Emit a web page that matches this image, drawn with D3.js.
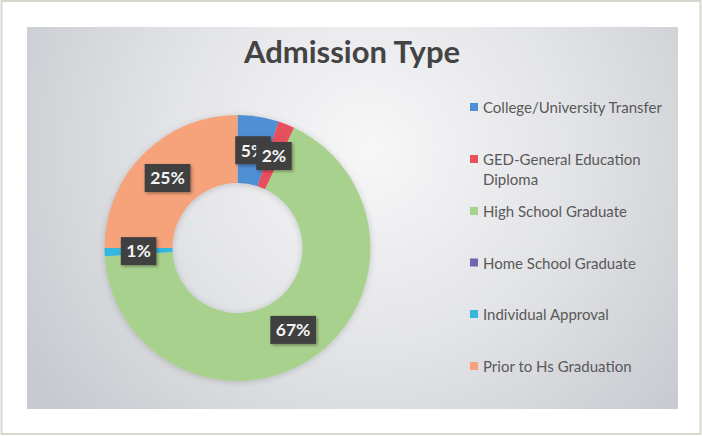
<!DOCTYPE html>
<html>
<head>
<meta charset="utf-8">
<script src="https://cdn.jsdelivr.net/npm/d3@7"></script>
<style>
  html, body { margin: 0; padding: 0; background: #ffffff; }
  svg { display: block; }
</style>
</head>
<body>
<svg id="chart" width="702" height="436"></svg>
<script>
// Admission type breakdown (percent of admissions)
const categories = [
  "College/University Transfer",
  "GED-General Education Diploma",
  "High School Graduate",
  "Home School Graduate",
  "Individual Approval",
  "Prior to Hs Graduation"
];
const values = [5, 2, 67, 0, 1, 25];
const colors = ["#4f8fd3", "#e8505c", "#a9d18e", "#6f63b4", "#35b6dc", "#f6a27a"];
// legend labels as they wrap on screen
const legendLines = [
  ["College/University Transfer"],
  ["GED-General Education", "Diploma"],
  ["High School Graduate"],
  ["Home School Graduate"],
  ["Individual Approval"],
  ["Prior to Hs Graduation"]
];

const W = 702, H = 436;
const svg = d3.select("#chart");
const defs = svg.append("defs");

// panel gradient
const grad = defs.append("radialGradient")
  .attr("id", "panelGrad")
  .attr("gradientUnits", "userSpaceOnUse")
  .attr("cx", 370).attr("cy", 150).attr("r", 400);
grad.append("stop").attr("offset", "0%").attr("stop-color", "#f7f7f8");
grad.append("stop").attr("offset", "50%").attr("stop-color", "#e3e4e7");
grad.append("stop").attr("offset", "100%").attr("stop-color", "#c7cacf");

const shadow = defs.append("filter").attr("id", "boxShadow")
  .attr("x", "-30%").attr("y", "-30%").attr("width", "160%").attr("height", "160%");
shadow.append("feDropShadow").attr("dx", 1.5).attr("dy", 1.5)
  .attr("stdDeviation", 1.5).attr("flood-color", "#000").attr("flood-opacity", 0.35);

const ringShadow = defs.append("filter").attr("id", "ringShadow")
  .attr("x", "-20%").attr("y", "-20%").attr("width", "140%").attr("height", "140%");
ringShadow.append("feDropShadow").attr("dx", 0).attr("dy", 1)
  .attr("stdDeviation", 3).attr("flood-color", "#000").attr("flood-opacity", 0.18);

// outer frame
svg.append("rect").attr("x", 1.5).attr("y", 1).attr("width", W - 3).attr("height", H - 3)
  .attr("fill", "#ffffff").attr("stroke", "#d9d6cf").attr("stroke-width", 2);

// chart panel
svg.append("rect").attr("x", 27).attr("y", 27).attr("width", 651).attr("height", 382)
  .attr("fill", "url(#panelGrad)");

// title
svg.append("text")
  .attr("x", 352).attr("y", 63)
  .attr("text-anchor", "middle")
  .attr("font-family", "Lato, 'Open Sans', sans-serif")
  .attr("font-weight", "bold")
  .attr("font-size", 31)
  .attr("fill", "#444444")
  .text("Admission Type");

// donut
const cx = 237.5, cy = 248;
const outerR = 133, innerR = 65;
const pie = d3.pie().sort(null).value(d => d.value);
const data = categories.map((c, i) => ({ name: c, value: values[i], color: colors[i] }));
const arcs = pie(data);
const arc = d3.arc().innerRadius(innerR).outerRadius(outerR);

const g = svg.append("g").attr("transform", `translate(${cx},${cy})`);
g.append("g").attr("filter", "url(#ringShadow)")
  .selectAll("path")
  .data(arcs.filter(d => d.data.value > 0))
  .join("path")
  .attr("d", arc)
  .attr("fill", d => d.data.color);

// data labels at slice centroids
const labels = g.append("g")
  .selectAll("g")
  .data(arcs.filter(d => d.data.value > 0))
  .join("g")
  .attr("transform", d => {
    const [x, y] = arc.centroid(d);
    return `translate(${x},${y})`;
  });
labels.each(function(d) {
  const sel = d3.select(this);
  const txt = d.data.value + "%";
  const t = sel.append("text")
    .attr("text-anchor", "middle")
    .attr("dy", "0.36em")
    .attr("font-family", "Lato, 'Open Sans', sans-serif")
    .attr("font-weight", "bold")
    .attr("font-size", 17.5)
    .attr("fill", "#f4f4f4")
    .text(txt);
  const w = t.node().getComputedTextLength() + 11;
  sel.insert("rect", "text")
    .attr("x", -w / 2).attr("y", -14)
    .attr("width", w).attr("height", 28)
    .attr("fill", "#404040")
    .attr("filter", "url(#boxShadow)");
});

// legend
const legendX = 470;
const rowY = [108, 160, 212, 263.5, 315, 367];
const lg = svg.append("g");
categories.forEach((c, i) => {
  const row = lg.append("g");
  row.append("rect")
    .attr("x", legendX).attr("y", rowY[i] - 5)
    .attr("width", 8).attr("height", 8)
    .attr("fill", colors[i]);
  legendLines[i].forEach((line, j) => {
    row.append("text")
      .attr("x", legendX + 13)
      .attr("y", rowY[i] + j * 20)
      .attr("dy", "0.35em")
      .attr("font-family", "Lato, 'Open Sans', sans-serif")
      .attr("font-size", 15)
      .attr("fill", "#595959")
      .text(line);
  });
});
</script>
</body>
</html>
